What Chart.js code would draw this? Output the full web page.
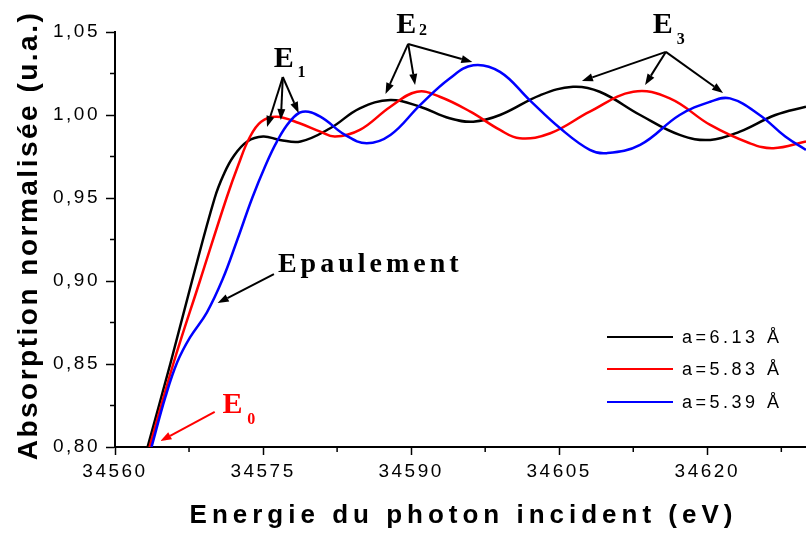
<!DOCTYPE html>
<html>
<head>
<meta charset="utf-8">
<script src="https://cdn.jsdelivr.net/npm/chart.js@4"></script>
<style>
  html, body { margin: 0; padding: 0; background: #fff; }
</style>
</head>
<body>
<canvas id="xanes" width="806" height="536"></canvas>
<script>
// a = 6.13 A
const blackE = [34563.3, 34565.6, 34567.8, 34570.1, 34571.0, 34572.0, 34573.4, 34575.0,
  34576.7, 34578.8, 34581.8, 34584.8, 34587.9, 34590.9, 34593.9, 34596.3, 34599.0, 34603.1,
  34606.4, 34609.1, 34613.2, 34617.2, 34620.3, 34623.3, 34626.9, 34630.0];
const blackA = [0.800, 0.850, 0.900, 0.950, 0.964, 0.975, 0.984, 0.987,
  0.985, 0.984, 0.992, 1.004, 1.009, 1.005, 0.998, 0.996, 1.000, 1.012,
  1.017, 1.014, 1.000, 0.988, 0.985, 0.990, 1.000, 1.005];

// a = 5.83 A
const redE = [34563.5, 34565.9, 34568.6, 34571.3, 34572.5, 34573.6, 34574.8, 34576.4,
  34578.7, 34580.8, 34582.3, 34584.8, 34587.9, 34590.6, 34592.9, 34596.0, 34599.0, 34601.0,
  34604.1, 34608.1, 34612.5, 34616.2, 34620.3, 34624.3, 34626.7, 34630.0];
const redA = [0.800, 0.850, 0.900, 0.950, 0.970, 0.986, 0.996, 0.999,
  0.995, 0.990, 0.987, 0.991, 1.005, 1.014, 1.011, 1.002, 0.991, 0.986,
  0.989, 1.002, 1.014, 1.010, 0.994, 0.983, 0.980, 0.984];

// a = 5.39 A
const blueE = [34563.7, 34565.1, 34566.3, 34567.6, 34569.3, 34570.9, 34572.4, 34573.9,
  34575.2, 34576.4, 34577.7, 34579.0, 34580.8, 34583.3, 34585.5, 34587.9, 34590.9, 34593.9,
  34596.3, 34599.0, 34602.0, 34605.1, 34608.1, 34609.8, 34613.2, 34617.2, 34620.3, 34622.3,
  34625.3, 34627.9, 34630.0];
const blueA = [0.800, 0.830, 0.851, 0.866, 0.881, 0.901, 0.925, 0.950,
  0.969, 0.984, 0.996, 1.002, 0.999, 0.988, 0.983, 0.988, 1.006, 1.022,
  1.030, 1.026, 1.009, 0.992, 0.979, 0.977, 0.982, 1.000, 1.008, 1.010,
  1.000, 0.987, 0.979];

const seriesLabels = ['a=6.13 Å', 'a=5.83 Å', 'a=5.39 Å'];
const seriesColors = ['#000000', '#ff0000', '#0000ff'];

const xTickValues = [34560, 34575, 34590, 34605, 34620];
const xMinorTicks = [34567.5, 34582.5, 34597.5, 34612.5, 34627.5];
const yTickValues = [0.80, 0.85, 0.90, 0.95, 1.00, 1.05];
const yMinorTicks = [0.825, 0.875, 0.925, 0.975, 1.025];

// annotations, anchored in data units (eV, u.a.)
const peakNotes = [
  { sub: '1', text: [34577.1, 1.0289], subAt: [34578.5, 1.0229], from: [34577.0, 1.0229],
    to: [[34575.4, 0.9928], [34576.8, 0.9970], [34578.6, 1.0012]] },
  { sub: '2', text: [34589.5, 1.0494], subAt: [34590.8, 1.0482], from: [34589.7, 1.0428],
    to: [[34587.4, 1.0127], [34590.4, 1.0181], [34596.2, 1.0319]] },
  { sub: '3', text: [34615.5, 1.0494], subAt: [34616.9, 1.0428], from: [34615.8, 1.0380],
    to: [[34607.3, 1.0205], [34613.7, 1.0181], [34621.6, 1.0133]] }
];
const shoulderNote = { text: [34576.5, 0.9054], from: [34576.1, 0.9042], to: [34570.4, 0.8867] };
const edgeNote = { text: [34570.9, 0.8205], subAt: [34573.4, 0.8140], from: [34570.1, 0.8211], to: [34564.6, 0.8036] };

const toPoints = (es, as) => es.map((e, i) => ({ x: e, y: as[i] }));

function drawArrow(ctx, x1, y1, x2, y2, color) {
  const ang = Math.atan2(y2 - y1, x2 - x1);
  const len = 11, half = 4;
  const bx = x2 - len * Math.cos(ang), by = y2 - len * Math.sin(ang);
  ctx.strokeStyle = color;
  ctx.fillStyle = color;
  ctx.lineWidth = 2;
  ctx.beginPath();
  ctx.moveTo(x1, y1);
  ctx.lineTo(bx, by);
  ctx.stroke();
  ctx.beginPath();
  ctx.moveTo(x2, y2);
  ctx.lineTo(bx + half * Math.sin(ang), by - half * Math.cos(ang));
  ctx.lineTo(bx - half * Math.sin(ang), by + half * Math.cos(ang));
  ctx.closePath();
  ctx.fill();
}

const overlay = {
  id: 'overlay',
  beforeDraw(chart) {
    chart.ctx.letterSpacing = '2.5px';
  },
  afterDraw(chart) {
    const { ctx, chartArea, scales: { x, y } } = chart;
    const px = v => x.getPixelForValue(v);
    const py = v => y.getPixelForValue(v);
    ctx.save();
    ctx.letterSpacing = '0px';

    // minor ticks
    ctx.strokeStyle = '#000';
    ctx.lineWidth = 1.5;
    ctx.beginPath();
    xMinorTicks.forEach(v => {
      ctx.moveTo(px(v), chartArea.bottom);
      ctx.lineTo(px(v), chartArea.bottom + 5);
    });
    yMinorTicks.forEach(v => {
      ctx.moveTo(chartArea.left - 5, py(v));
      ctx.lineTo(chartArea.left, py(v));
    });
    ctx.stroke();

    // axis titles
    ctx.fillStyle = '#000';
    ctx.textBaseline = 'alphabetic';
    ctx.textAlign = 'center';
    ctx.font = 'bold 26px "Liberation Sans", Arial, sans-serif';
    ctx.letterSpacing = '5px';
    ctx.fillText(x.options.title.text, (chartArea.left + chartArea.right) / 2 + 3, 523);
    ctx.save();
    ctx.translate(37, (chartArea.top + chartArea.bottom) / 2 - 4);
    ctx.rotate(-Math.PI / 2);
    ctx.font = 'bold 28px "Liberation Sans", Arial, sans-serif';
    ctx.letterSpacing = '2.5px';
    ctx.fillText(y.options.title.text, 0, 0);
    ctx.restore();

    // legend
    ctx.font = '18px "Liberation Sans", Arial, sans-serif';
    ctx.letterSpacing = '3.5px';
    ctx.textAlign = 'left';
    ctx.textBaseline = 'middle';
    const legendY = [chartArea.bottom - 110, chartArea.bottom - 78, chartArea.bottom - 45];
    chart.data.datasets.forEach((ds, i) => {
      ctx.strokeStyle = ds.borderColor;
      ctx.lineWidth = 2;
      ctx.beginPath();
      ctx.moveTo(chartArea.right - 199, legendY[i]);
      ctx.lineTo(chartArea.right - 133, legendY[i]);
      ctx.stroke();
      ctx.fillStyle = '#000';
      ctx.fillText(ds.label, chartArea.right - 124, legendY[i] + 1);
    });

    // E1, E2, E3
    ctx.textBaseline = 'alphabetic';
    peakNotes.forEach(n => {
      ctx.letterSpacing = '0px';
      ctx.fillStyle = '#000';
      ctx.textAlign = 'center';
      ctx.font = 'bold 30px "Liberation Serif", "Times New Roman", serif';
      ctx.fillText('E', px(n.text[0]), py(n.text[1]));
      ctx.textAlign = 'left';
      ctx.font = 'bold 16px "Liberation Serif", "Times New Roman", serif';
      ctx.fillText(n.sub, px(n.subAt[0]), py(n.subAt[1]));
      n.to.forEach(t => drawArrow(ctx, px(n.from[0]), py(n.from[1]), px(t[0]), py(t[1]), '#000'));
    });

    // Epaulement
    ctx.fillStyle = '#000';
    ctx.textAlign = 'left';
    ctx.font = 'bold 28px "Liberation Serif", "Times New Roman", serif';
    ctx.letterSpacing = '4px';
    ctx.fillText('Epaulement', px(shoulderNote.text[0]), py(shoulderNote.text[1]));
    ctx.letterSpacing = '0px';
    drawArrow(ctx, px(shoulderNote.from[0]), py(shoulderNote.from[1]),
      px(shoulderNote.to[0]), py(shoulderNote.to[1]), '#000');

    // E0
    ctx.fillStyle = '#ff0000';
    ctx.font = 'bold 30px "Liberation Serif", "Times New Roman", serif';
    ctx.fillText('E', px(edgeNote.text[0]), py(edgeNote.text[1]));
    ctx.font = 'bold 16px "Liberation Serif", "Times New Roman", serif';
    ctx.fillText('0', px(edgeNote.subAt[0]), py(edgeNote.subAt[1]));
    drawArrow(ctx, px(edgeNote.from[0]), py(edgeNote.from[1]),
      px(edgeNote.to[0]), py(edgeNote.to[1]), '#ff0000');

    ctx.restore();
  }
};

const ctx = document.getElementById('xanes').getContext('2d');

new Chart(ctx, {
  type: 'line',
  data: {
    datasets: [
      { label: seriesLabels[0], data: toPoints(blackE, blackA), borderColor: seriesColors[0], order: 2 },
      { label: seriesLabels[1], data: toPoints(redE, redA), borderColor: seriesColors[1], order: 1 },
      { label: seriesLabels[2], data: toPoints(blueE, blueA), borderColor: seriesColors[2], order: 0 }
    ]
  },
  options: {
    responsive: false,
    animation: false,
    devicePixelRatio: 1,
    layout: { padding: { top: 32, right: 0, left: 0, bottom: 0 } },
    elements: {
      point: { radius: 0 },
      line: { borderWidth: 2.5, tension: 0.4, fill: false }
    },
    plugins: {
      legend: { display: false },
      tooltip: { enabled: false }
    },
    scales: {
      x: {
        type: 'linear',
        min: 34560,
        max: 34630,
        afterBuildTicks: scale => { scale.ticks = xTickValues.map(v => ({ value: v })); },
        afterFit: scale => { scale.height = 89; },
        title: { display: false, text: 'Energie du photon incident (eV)' },
        border: { display: true, color: '#000', width: 2 },
        grid: { display: true, drawOnChartArea: false, drawTicks: true, tickLength: 8, tickColor: '#000', tickWidth: 1.5 },
        ticks: {
          color: '#000',
          padding: 5,
          maxRotation: 0,
          font: { family: '"Liberation Sans", Arial, sans-serif', size: 19 },
          callback: v => String(v)
        }
      },
      y: {
        type: 'linear',
        min: 0.80,
        max: 1.05,
        afterBuildTicks: scale => { scale.ticks = yTickValues.map(v => ({ value: v })); },
        afterFit: scale => { scale.width = 115; },
        title: { display: false, text: 'Absorption normalisée (u.a.)' },
        border: { display: true, color: '#000', width: 2 },
        grid: { display: true, drawOnChartArea: false, drawTicks: true, tickLength: 9, tickColor: '#000', tickWidth: 1.5 },
        ticks: {
          color: '#000',
          padding: 6,
          font: { family: '"Liberation Sans", Arial, sans-serif', size: 19 },
          callback: v => v.toFixed(2).replace('.', ',')
        }
      }
    }
  },
  plugins: [overlay]
});
</script>
</body>
</html>
